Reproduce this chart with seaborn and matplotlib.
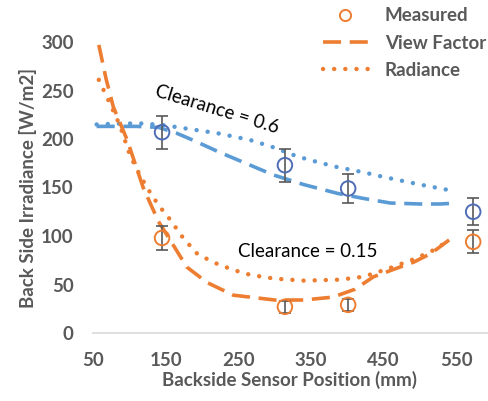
import matplotlib
matplotlib.use("Agg")
import matplotlib.pyplot as plt
import seaborn as sns
import pandas as pd
from matplotlib.lines import Line2D

sns.set_theme(style="white")
plt.rcParams['font.family'] = ['Lato', 'DejaVu Sans']

# Measured data
meas_x = [145, 314, 401, 573]
meas_06 = [207, 173, 149, 125]
err_06 = [17, 17, 15, 14]
meas_015 = [98, 27, 29, 94]
err_015 = [12, 6, 6, 12]

# Clearance 0.6 model curves
vf06_x = [55, 80, 110, 140, 165, 190, 222, 260, 298, 340, 386, 420, 459, 500, 528, 550]
vf06_y = [213, 213, 213, 212, 206, 198, 187, 175, 163, 153, 144, 139, 134, 133, 133, 134]
rad06_x = [55, 90, 120, 150, 185, 221, 266, 300, 331, 360, 386, 420, 449, 500, 542]
rad06_y = [215, 216, 216, 214, 210, 206, 199, 191, 182, 176, 171, 166, 161, 153, 147]

# Clearance 0.15 model curves
vf015_x = [58, 68, 78, 97, 119, 140, 156, 179, 207, 243, 266, 300, 340, 380, 410, 436, 465, 491, 515, 540]
vf015_y = [297, 262, 233, 199, 150, 115, 96, 68, 52, 39, 37, 34, 34, 37, 45, 58, 66, 73, 82, 96]
rad015_x = [58, 73, 87, 101, 115, 130, 142, 156, 174, 193, 215, 243, 266, 300, 340, 390, 422, 455, 491, 515, 537]
rad015_y = [261, 237, 214, 183, 162, 143, 130, 117, 98, 82, 73, 65, 60, 56, 54, 55, 58, 66, 76, 84, 94]

xticks = [50, 150, 250, 350, 450, 550]
yticks = [0, 50, 100, 150, 200, 250, 300]

ORANGE = "#ED7D31"
BLUE = "#5B9BD5"
BLUE_M = "#4F6DB5"
GRAY = "#595959"

fig = plt.figure(figsize=(4.88, 4.01), dpi=100)
ax = fig.add_axes([93/488, 68/401, 394/488, 291/401])

dash = (5, 2.4)
dot = (0.01, 2.5)

def style(line, pattern, cap):
    line.set_dashes(pattern)
    line.set_dash_capstyle(cap)

sns.lineplot(x=vf06_x, y=vf06_y, ax=ax, color=BLUE, lw=2.6, sort=False)
style(ax.lines[-1], dash, "butt")
sns.lineplot(x=rad06_x, y=rad06_y, ax=ax, color=BLUE, lw=3.2, sort=False)
style(ax.lines[-1], dot, "round")
sns.lineplot(x=vf015_x, y=vf015_y, ax=ax, color=ORANGE, lw=2.6, sort=False)
style(ax.lines[-1], dash, "butt")
sns.lineplot(x=rad015_x, y=rad015_y, ax=ax, color=ORANGE, lw=3.2, sort=False)
style(ax.lines[-1], dot, "round")

ax.errorbar(meas_x, meas_06, yerr=err_06, fmt="none", ecolor=GRAY, elinewidth=1.2, capsize=4, capthick=1.2)
ax.errorbar(meas_x, meas_015, yerr=err_015, fmt="none", ecolor=GRAY, elinewidth=1.2, capsize=4, capthick=1.2)
sns.scatterplot(x=meas_x, y=meas_06, ax=ax, marker="o", s=110, facecolor="none", edgecolor=BLUE_M, linewidth=1.4, zorder=5)
sns.scatterplot(x=meas_x, y=meas_015, ax=ax, marker="o", s=110, facecolor="none", edgecolor=ORANGE, linewidth=1.4, zorder=5)

ax.set_xlim(50, 592)
ax.set_ylim(0, 300)
ax.set_xticks(xticks)
ax.set_yticks(yticks)
for s in ["top", "right", "left"]:
    ax.spines[s].set_visible(False)
ax.spines["bottom"].set_color("#D9D9D9")
ax.spines["bottom"].set_linewidth(1.2)
ax.tick_params(axis="y", length=0, labelsize=13.5, labelcolor=GRAY, pad=14)
ax.tick_params(axis="x", length=0, labelsize=13.5, labelcolor=GRAY, pad=14)
for lab in ax.get_xticklabels() + ax.get_yticklabels():
    lab.set_fontweight("bold")

ax.set_xlabel("Backside Sensor Position (mm)", fontsize=13.5, fontweight="bold", color=GRAY, labelpad=1)
ax.set_ylabel("Back Side Irradiance [W/m2]", fontsize=13.5, fontweight="bold", color=GRAY, labelpad=3)

ax.text(221, 230, "Clearance = 0.6", rotation=-17, ha="center", va="center", fontsize=13.5, color="black")
ax.text(346, 84, "Clearance = 0.15", ha="center", va="center", fontsize=13.5, color="black")

handles = [
    Line2D([], [], marker="o", ls="none", markersize=8, markerfacecolor="none", markeredgecolor=ORANGE, markeredgewidth=1.4),
    Line2D([], [], color=ORANGE, lw=2.6, dashes=dash),
    Line2D([], [], color=ORANGE, lw=3.2, dashes=dot, dash_capstyle="round"),
]
leg = fig.legend(handles, ["Measured", "View Factor", "Radiance"], loc="upper right",
                 bbox_to_anchor=(1.015, 1.005), borderaxespad=0.1, frameon=False, fontsize=13.5,
                 handlelength=2.4, labelspacing=0.55, handletextpad=0.9)
for t in leg.get_texts():
    t.set_color(GRAY)
    t.set_fontweight("bold")

fig.savefig("out.png", dpi=100)
